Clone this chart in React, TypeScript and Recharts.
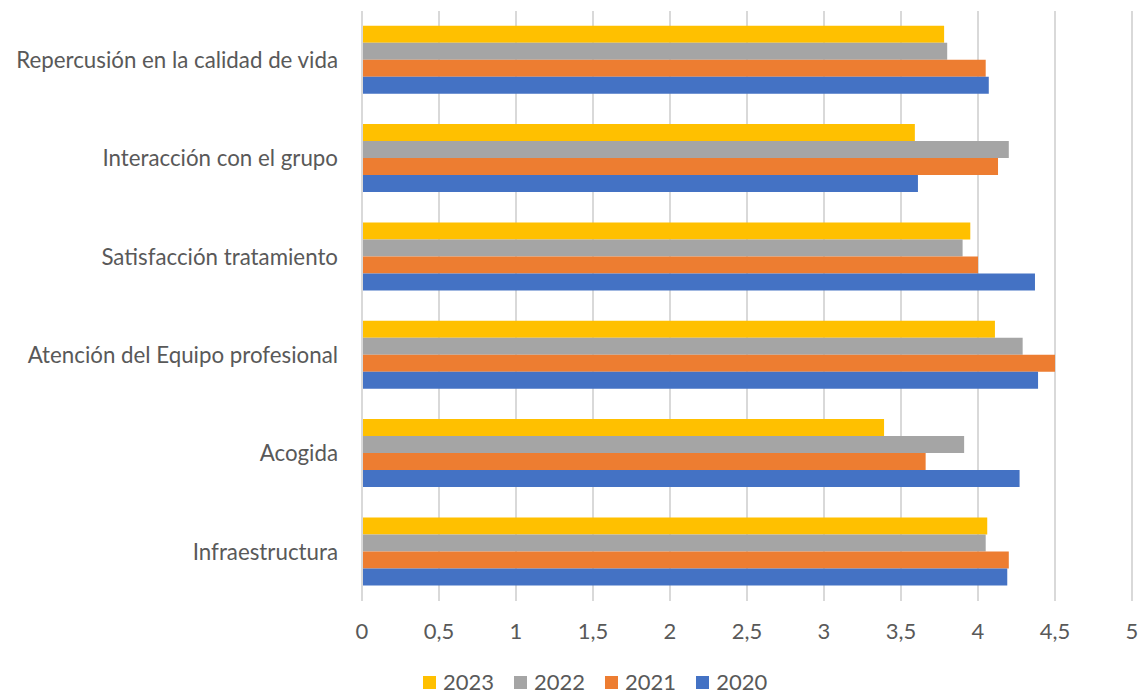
import { BarChart, Bar, XAxis, YAxis, CartesianGrid, Legend } from 'recharts';

// categories, top to bottom as in the chart
const categories = [
  'Repercusión en la calidad de vida',
  'Interacción con el grupo',
  'Satisfacción tratamiento',
  'Atención del Equipo profesional',
  'Acogida',
  'Infraestructura',
];

const y2023 = [3.78, 3.59, 3.95, 4.11, 3.39, 4.06];
const y2022 = [3.8, 4.2, 3.9, 4.29, 3.91, 4.05];
const y2021 = [4.05, 4.13, 4.0, 4.5, 3.66, 4.2];
const y2020 = [4.07, 3.61, 4.37, 4.39, 4.27, 4.19];

const xTicks = [0, 0.5, 1, 1.5, 2, 2.5, 3, 3.5, 4, 4.5, 5];

const series = [
  { key: '2023', color: '#FFC000' },
  { key: '2022', color: '#A5A5A5' },
  { key: '2021', color: '#ED7D31' },
  { key: '2020', color: '#4472C4' },
];

const data = categories.map((name, i) => ({
  name,
  '2023': y2023[i],
  '2022': y2022[i],
  '2021': y2021[i],
  '2020': y2020[i],
}));

const font = 'Lato, "Noto Sans", sans-serif';
const textColor = '#595959';
const gridColor = '#D9D9D9';

const LegendContent = () => (
  <div style={{ display: 'flex', gap: 20, fontSize: 22, color: textColor, fontFamily: font, lineHeight: '26px' }}>
    {series.map((s) => (
      <div key={s.key} style={{ display: 'flex', alignItems: 'center', gap: 7 }}>
        <span style={{ display: 'inline-block', width: 13, height: 13, background: s.color }} />
        <span>{s.key}</span>
      </div>
    ))}
  </div>
);

export default function App() {
  return (
    <div style={{ position: 'absolute', left: 0, top: 0, background: '#fff', fontFamily: font }}>
      <BarChart
        width={1138}
        height={695}
        data={data}
        layout="vertical"
        margin={{ top: 11, right: 6, left: 0, bottom: 0 }}
        barCategoryGap="15%"
        barGap={0}
      >
        <CartesianGrid horizontal={false} stroke={gridColor} strokeWidth={2} />
        <XAxis
          type="number"
          domain={[0, 5]}
          ticks={xTicks}
          interval={0}
          tickFormatter={(v: number) => String(v).replace('.', ',')}
          axisLine={false}
          tickLine={false}
          tickMargin={16}
          height={68}
          tick={{ fontSize: 22, fill: textColor, fontFamily: font }}
        />
        <YAxis
          type="category"
          dataKey="name"
          width={362}
          axisLine={{ stroke: gridColor, strokeWidth: 2 }}
          tickLine={false}
          tickMargin={18}
          tick={{ fontSize: 22.3, fill: textColor, fontFamily: font }}
        />
        <Legend
          verticalAlign="bottom"
          content={<LegendContent />}
          wrapperStyle={{ left: 423, width: 340, height: 26, bottom: 0 }}
        />
        {series.map((s) => (
          <Bar key={s.key} dataKey={s.key} fill={s.color} isAnimationActive={false} />
        ))}
      </BarChart>
    </div>
  );
}
